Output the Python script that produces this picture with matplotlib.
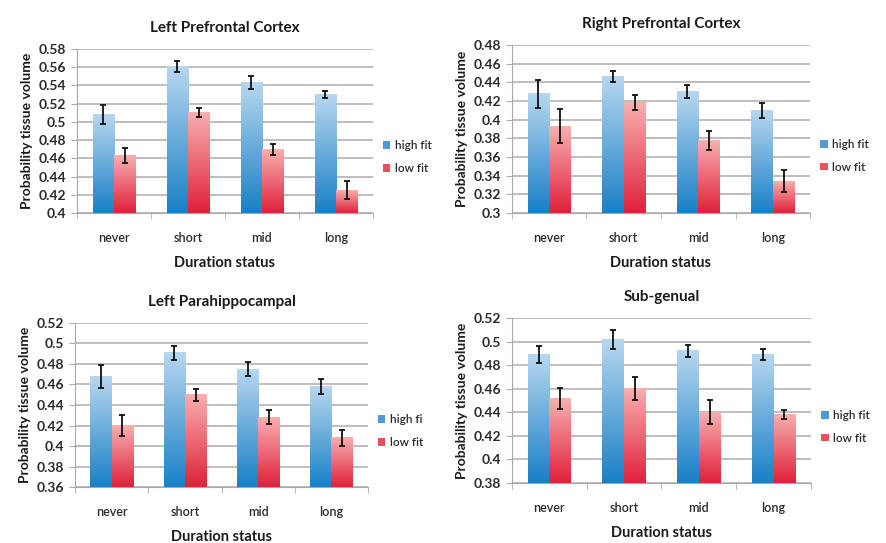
import numpy as np
import matplotlib.pyplot as plt
from matplotlib.colors import LinearSegmentedColormap
from matplotlib.patches import Patch

# Data
categories = ['never', 'short', 'mid', 'long']

lpfc_high = [0.508, 0.561, 0.543, 0.530]
lpfc_high_err = [0.010, 0.006, 0.007, 0.004]
lpfc_low = [0.463, 0.510, 0.470, 0.425]
lpfc_low_err = [0.008, 0.005, 0.006, 0.010]

rpfc_high = [0.428, 0.446, 0.430, 0.410]
rpfc_high_err = [0.015, 0.006, 0.007, 0.008]
rpfc_low = [0.393, 0.418, 0.378, 0.334]
rpfc_low_err = [0.018, 0.008, 0.010, 0.012]

lph_high = [0.468, 0.491, 0.475, 0.458]
lph_high_err = [0.011, 0.007, 0.007, 0.007]
lph_low = [0.420, 0.450, 0.428, 0.408]
lph_low_err = [0.010, 0.006, 0.007, 0.008]

sg_high = [0.489, 0.502, 0.492, 0.489]
sg_high_err = [0.007, 0.008, 0.005, 0.005]
sg_low = [0.452, 0.460, 0.440, 0.438]
sg_low_err = [0.009, 0.010, 0.010, 0.004]

plt.rcParams['font.family'] = ['Lato', 'DejaVu Sans']

blue_cmap = LinearSegmentedColormap.from_list('b', ['#1880c6', '#b8d7ef'])
red_cmap = LinearSegmentedColormap.from_list('r', ['#e0203a', '#f7b0b0'])
grad = np.linspace(0, 1, 256).reshape(-1, 1)


def gradient_bars(ax, bars, cmap):
    for b in bars:
        x0, y0 = b.get_x(), b.get_y()
        w, h = b.get_width(), b.get_height()
        ax.imshow(grad, extent=(x0, x0 + w, y0, y0 + h), origin='lower',
                  aspect='auto', cmap=cmap, zorder=2)
        b.set_visible(False)


def panel(rect, title, high, high_err, low, low_err, ymin, ymax, high_label):
    ax = fig.add_axes(rect)
    x = np.arange(len(categories))
    w = 0.29
    b1 = ax.bar(x - w / 2, np.array(high) - ymin, w, bottom=ymin, color='#5aa0d8')
    b2 = ax.bar(x + w / 2, np.array(low) - ymin, w, bottom=ymin, color='#ee6a72')
    gradient_bars(ax, b1, blue_cmap)
    gradient_bars(ax, b2, red_cmap)
    ax.errorbar(x - w / 2, high, yerr=high_err, fmt='none', ecolor='#111111',
                elinewidth=1.3, capsize=2, capthick=1.3, zorder=3)
    ax.errorbar(x + w / 2, low, yerr=low_err, fmt='none', ecolor='#111111',
                elinewidth=1.3, capsize=2, capthick=1.3, zorder=3)

    ax.set_xlim(-0.5, len(categories) - 0.5)
    ax.set_ylim(ymin, ymax)
    ticks = np.round(np.arange(ymin, ymax + 0.001, 0.02), 2)
    ax.set_yticks(ticks)
    ax.set_yticklabels([('%g' % t) for t in ticks])
    ax.yaxis.grid(True, color='#b3a9a9', linewidth=1.1, zorder=0)
    ax.set_axisbelow(True)
    for s in ['top', 'right']:
        ax.spines[s].set_visible(False)
    for s in ['left', 'bottom']:
        ax.spines[s].set_color('#a8a8a8')
    ax.tick_params(axis='y', length=4, color='#b3a9a9', pad=4,
                   labelsize=10, labelcolor='#2a2a2a')
    ax.set_xticks(x)
    ax.set_xticklabels(categories)
    ax.set_xticks(np.arange(-0.5, len(categories), 1.0), minor=True)
    ax.tick_params(axis='x', which='major', length=0, pad=14,
                   labelsize=9, labelcolor='#2a2a2a')
    ax.tick_params(axis='x', which='minor', length=4, color='#b3a9a9')
    for lab in ax.get_yticklabels():
        lab.set_fontweight('bold')
    for lab in ax.get_xticklabels():
        lab.set_fontweight('semibold')

    ax.set_title(title, fontsize=11, fontweight='bold', color='#1a1a1a', pad=12)
    ax.set_xlabel('Duration status', fontsize=10.5, fontweight='bold',
                  color='#1a1a1a', labelpad=8)
    ax.set_ylabel('Probability tissue volume', fontsize=10, fontweight='bold',
                  color='#1a1a1a', labelpad=4)

    handles = [Patch(facecolor='#4d9ad6'), Patch(facecolor='#e8505c')]
    leg = ax.legend(handles, [high_label, 'low fit'], loc='center left',
                    bbox_to_anchor=(1.035, 0.34), frameon=False, fontsize=8.5,
                    handlelength=0.6, handleheight=0.6, handletextpad=0.4,
                    labelspacing=1.0, borderpad=0, borderaxespad=0,
                    labelcolor='#2a2a2a')
    for t in leg.get_texts():
        t.set_fontweight('semibold')
    return ax


fig = plt.figure(figsize=(8.87, 5.43), dpi=100)

panel([0.0868, 0.6077, 0.3337, 0.3021], 'Left Prefrontal Cortex',
      lpfc_high, lpfc_high_err, lpfc_low, lpfc_low_err, 0.40, 0.58, 'high fit')
panel([0.5772, 0.6077, 0.3360, 0.3094], 'Right Prefrontal Cortex',
      rpfc_high, rpfc_high_err, rpfc_low, rpfc_low_err, 0.30, 0.48, 'high fit')
panel([0.0846, 0.1031, 0.3303, 0.3021], 'Left Parahippocampal',
      lph_high, lph_high_err, lph_low, lph_low_err, 0.36, 0.52, 'high fi')
panel([0.5772, 0.1105, 0.3371, 0.3039], 'Sub-genual',
      sg_high, sg_high_err, sg_low, sg_low_err, 0.38, 0.52, 'high fit')

fig.savefig('out.png', dpi=100)
